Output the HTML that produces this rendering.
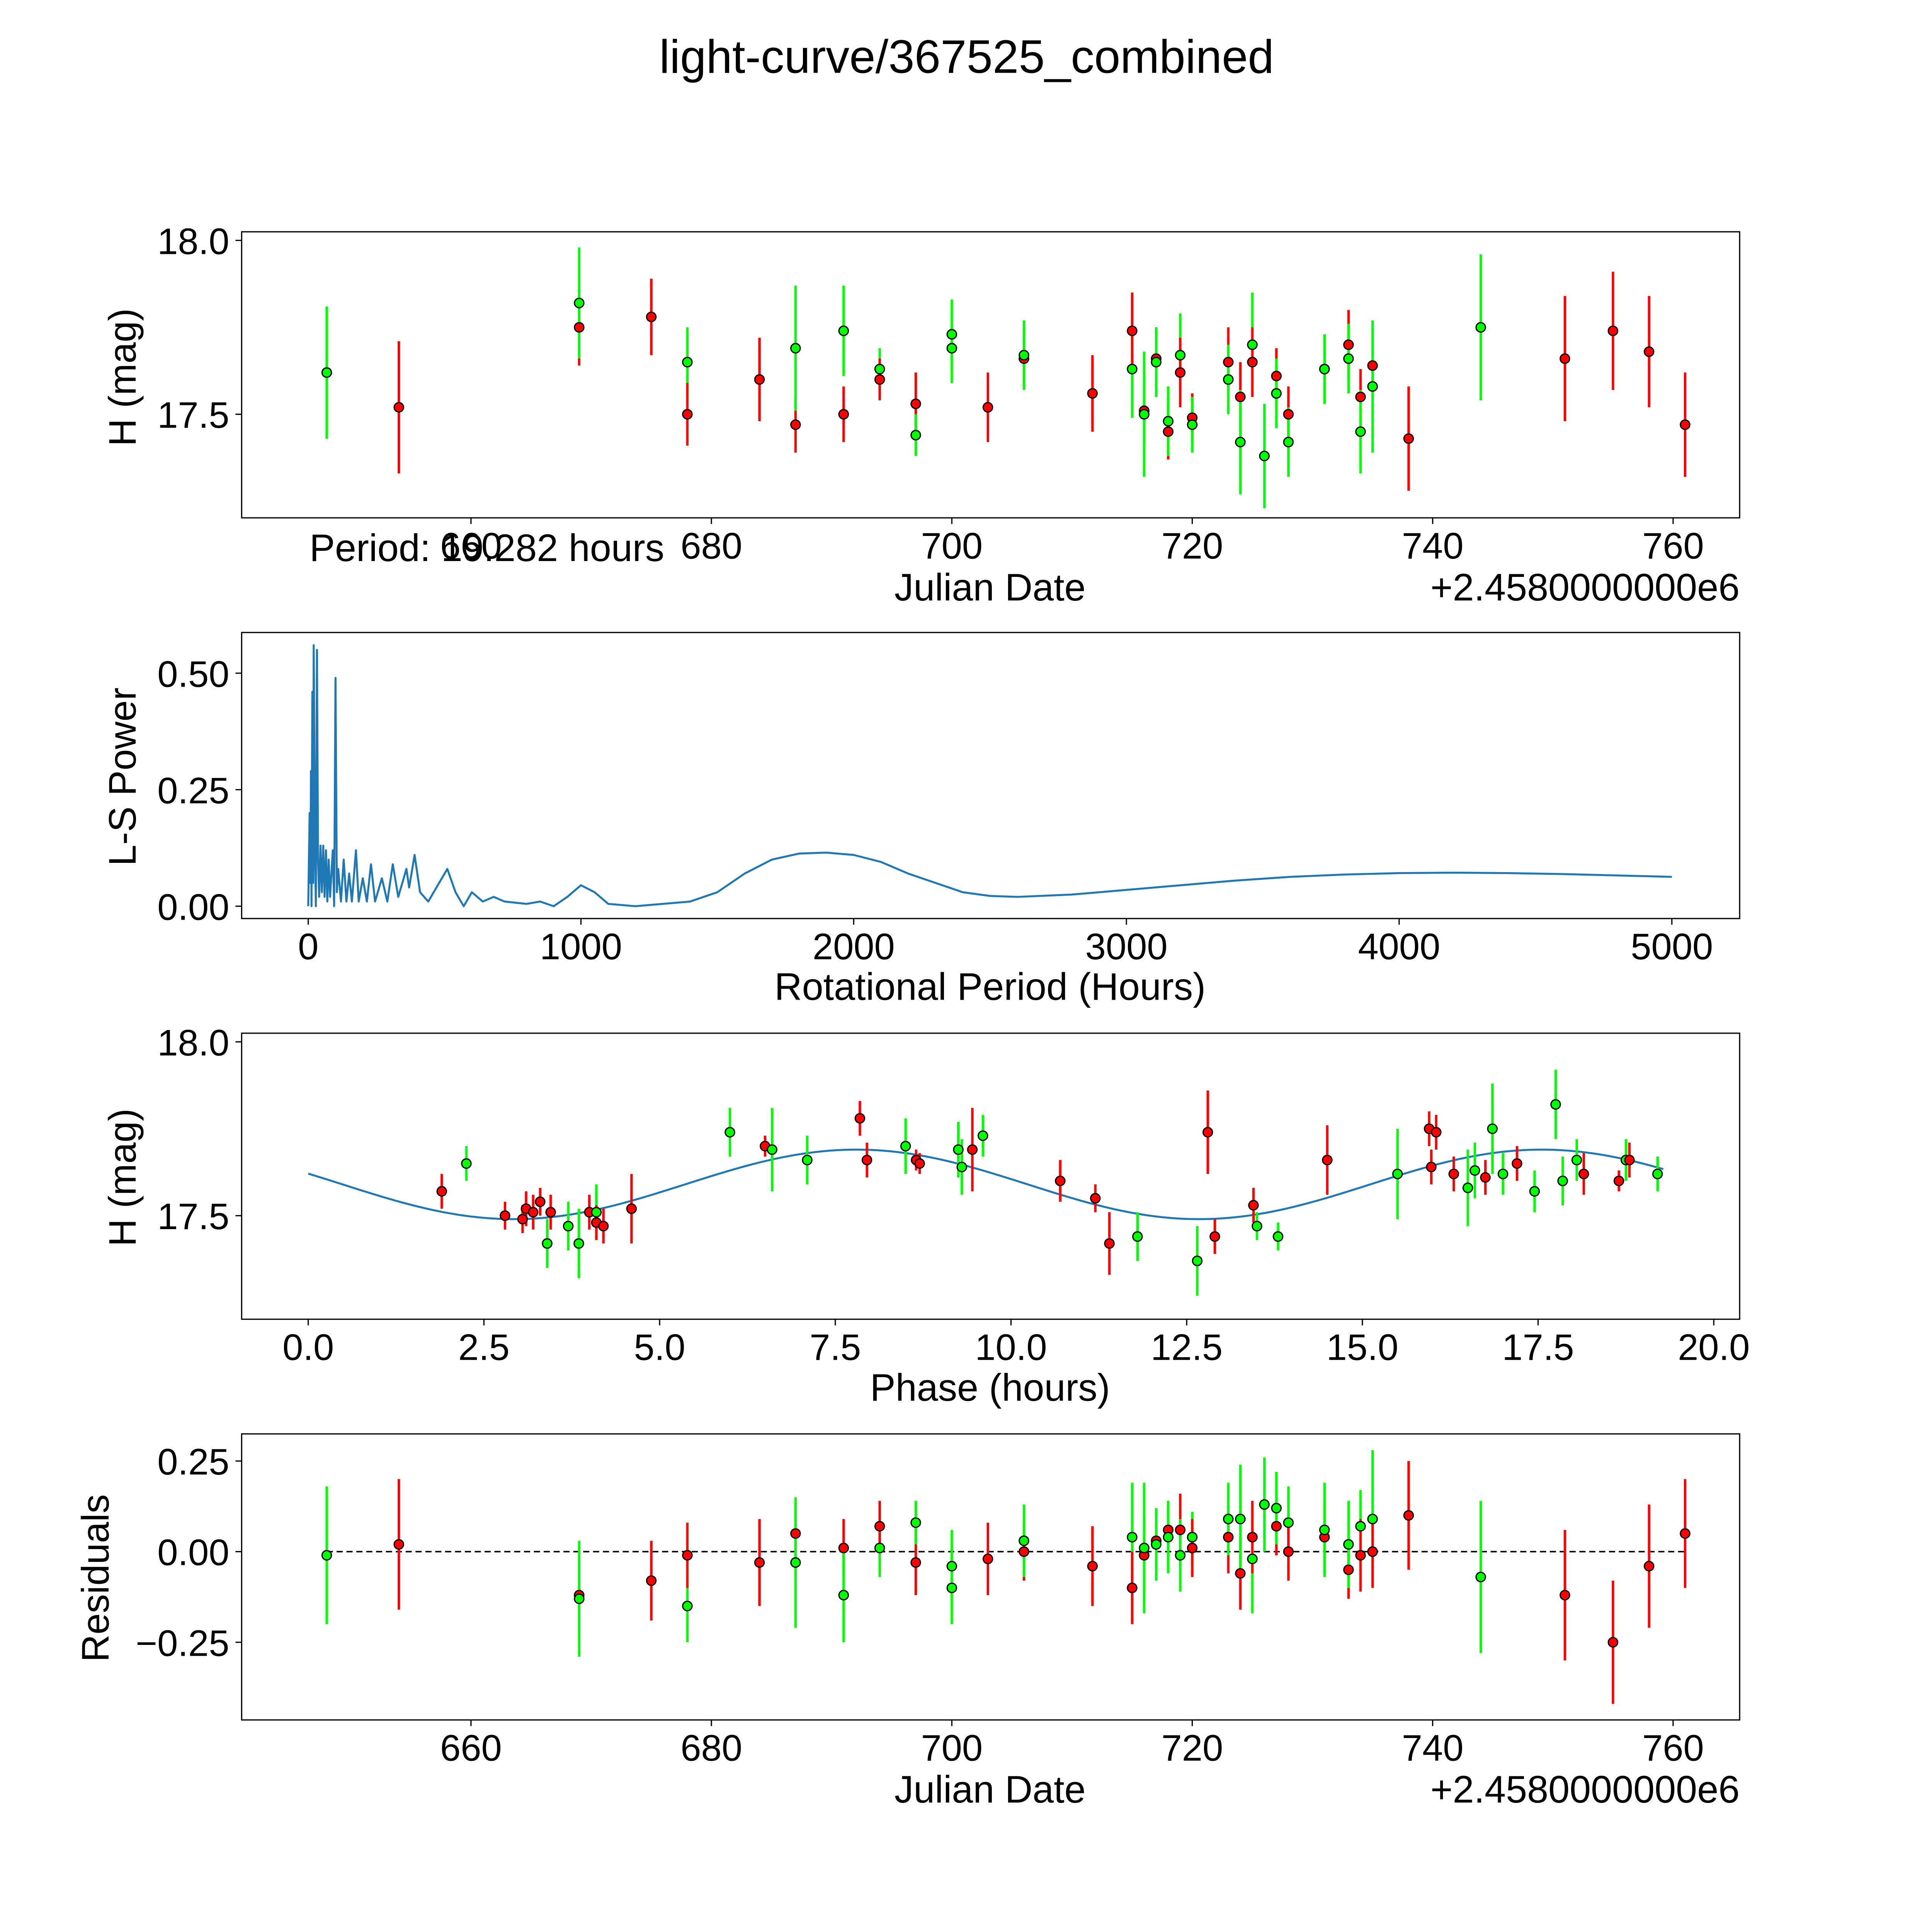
<!DOCTYPE html>
<html><head><meta charset="utf-8"><style>
html,body{margin:0;padding:0;background:#fff;overflow:hidden;width:100%;height:100%}
svg{display:block;width:100vw;height:100vh}
text{font-family:"Liberation Sans","DejaVu Sans",sans-serif;fill:#000}
</style></head><body>
<svg id="fig" xmlns="http://www.w3.org/2000/svg" viewBox="0 0 1567 1567" preserveAspectRatio="none">
<rect width="1567" height="1567" fill="#fff"/>
<text x="784" y="59" font-size="38" text-anchor="middle">light-curve/367525_combined</text>
</svg>
<script>
// ---- Panel 1 data: Julian date obs ----
const jdDates=[648,654,669,669,675,678,678,684,687,687,691,691,694,694,697,697,700,700,703,706,706,711.7,715,715,716,716,717,717,718,718,719,719,720,720,723,723,724,724,725,725,726,727,727,728,728,731,731,733,733,734,734,735,735,738,744,751,755,758,761];
const jdMags=[17.62,17.52,17.75,17.82,17.78,17.65,17.50,17.60,17.47,17.69,17.50,17.74,17.63,17.60,17.53,17.44,17.73,17.69,17.52,17.66,17.67,17.56,17.63,17.74,17.51,17.50,17.66,17.65,17.45,17.48,17.67,17.62,17.49,17.47,17.65,17.60,17.55,17.42,17.70,17.65,17.38,17.61,17.56,17.50,17.42,17.63,17.63,17.70,17.66,17.55,17.45,17.64,17.58,17.43,17.75,17.66,17.74,17.68,17.47];
const jdErrs=[0.19,0.19,0.11,0.16,0.11,0.1,0.09,0.12,0.08,0.18,0.08,0.13,0.06,0.06,0.09,0.06,0.1,0.1,0.1,0.08,0.1,0.11,0.14,0.11,0.1,0.18,0.09,0.1,0.08,0.1,0.12,0.1,0.07,0.08,0.1,0.1,0.1,0.15,0.15,0.1,0.15,0.08,0.1,0.08,0.1,0.1,0.1,0.1,0.1,0.08,0.12,0.08,0.19,0.15,0.21,0.18,0.17,0.16,0.15];
const jdColors=['g','r','r','g','r','g','r','r','r','g','r','g','g','r','r','g','g','g','r','r','g','r','g','r','r','g','r','g','r','g','g','r','r','g','r','g','r','g','g','r','g','r','g','r','g','r','g','r','g','r','g','r','g','r','g','r','r','r','r'];
// ---- Panel 2: periodogram ----
const lsPeriods=[0,5,8,10,12,15,18,20,25,28,32,36,40,45,50,55,60,65,70,75,80,90,95,100,105,110,120,130,140,150,160,175,185,200,215,230,245,270,290,310,330,360,370,390,410,440,470,510,540,570,600,640,680,720,800,850,900,950,1000,1050,1100,1200,1300,1400,1500,1600,1700,1800,1900,2000,2100,2200,2300,2400,2500,2600,2800,3000,3200,3400,3600,3800,4000,4200,4400,4600,4800,5000];
const lsPowers=[0,0.2,0.05,0.29,0,0.46,0.05,0.56,0.1,0,0.55,0.1,0.02,0.13,0.03,0.13,0.02,0.12,0.01,0.1,0.02,0.12,0,0.49,0.03,0.08,0.01,0.1,0.01,0.07,0.01,0.12,0.01,0.06,0.01,0.09,0.01,0.06,0.01,0.09,0.02,0.08,0.04,0.11,0.03,0.01,0.04,0.08,0.03,0,0.03,0.01,0.02,0.01,0.005,0.01,0,0.02,0.045,0.03,0.005,0,0.005,0.01,0.03,0.07,0.1,0.113,0.115,0.11,0.095,0.07,0.05,0.03,0.022,0.02,0.025,0.035,0.045,0.055,0.063,0.068,0.071,0.072,0.071,0.069,0.066,0.063];
// ---- Panel 3: phase-folded ----
const phHours=[1.9,2.25,2.8,3.05,3.1,3.2,3.3,3.45,3.4,3.7,3.85,4.0,4.1,4.1,4.2,4.6,6.0,6.5,6.6,7.1,7.85,7.95,8.5,8.65,8.7,9.25,9.3,9.45,9.6,10.7,11.2,11.4,11.8,12.65,12.8,12.9,13.45,13.5,13.8,14.5,15.5,15.95,16.05,15.98,16.3,16.5,16.6,16.75,16.85,17.0,17.2,17.45,17.75,17.85,18.05,18.15,18.65,18.75,18.8,19.2];
const phMags=[17.57,17.65,17.50,17.49,17.52,17.51,17.54,17.51,17.42,17.47,17.42,17.51,17.51,17.48,17.47,17.52,17.74,17.70,17.69,17.66,17.78,17.66,17.70,17.66,17.65,17.69,17.64,17.69,17.73,17.60,17.55,17.42,17.44,17.37,17.74,17.44,17.53,17.47,17.44,17.66,17.62,17.75,17.74,17.64,17.62,17.58,17.63,17.61,17.75,17.62,17.65,17.57,17.82,17.60,17.66,17.62,17.60,17.66,17.66,17.62];
const phErrs=[0.05,0.05,0.04,0.04,0.05,0.05,0.04,0.05,0.07,0.07,0.1,0.05,0.08,0.05,0.05,0.1,0.07,0.03,0.12,0.07,0.05,0.05,0.08,0.03,0.03,0.08,0.08,0.12,0.06,0.06,0.04,0.09,0.07,0.1,0.12,0.05,0.05,0.04,0.04,0.1,0.13,0.05,0.05,0.05,0.05,0.11,0.08,0.05,0.13,0.06,0.05,0.06,0.1,0.07,0.06,0.06,0.03,0.06,0.05,0.05];
const phColors=['r','g','r','r','r','r','r','r','g','g','g','r','g','r','r','r','g','r','g','g','r','r','g','r','r','g','g','r','g','r','r','r','g','g','r','r','r','g','g','r','g','r','r','r','r','g','g','r','g','g','r','g','g','g','g','r','r','g','r','g'];
// ---- Panel 4: residuals ----
const resDates=[648,654,669,669,675,678,678,684,687,687,691,691,694,694,697,697,700,700,703,706,706,711.7,715,715,716,716,717,717,718,718,719,719,720,720,723,723,724,724,725,725,726,727,727,728,728,731,731,733,733,734,734,735,735,738,744,751,755,758,761];
const resVals=[-0.01,0.02,-0.12,-0.13,-0.08,-0.15,-0.01,-0.03,0.05,-0.03,0.01,-0.12,0.01,0.07,-0.03,0.08,-0.04,-0.10,-0.02,0.00,0.03,-0.04,0.04,-0.10,-0.01,0.01,0.03,0.02,0.06,0.04,0.06,-0.01,0.04,0.01,0.04,0.09,-0.06,0.09,-0.02,0.04,0.13,0.07,0.12,0.08,0.00,0.04,0.06,-0.05,0.02,0.07,-0.01,0.09,0.00,0.10,-0.07,-0.12,-0.25,-0.04,0.05];
const resErrs=[0.19,0.18,0.11,0.16,0.11,0.1,0.09,0.12,0.08,0.18,0.08,0.13,0.08,0.07,0.09,0.06,0.1,0.1,0.1,0.08,0.1,0.11,0.15,0.1,0.1,0.18,0.09,0.1,0.08,0.1,0.1,0.1,0.07,0.08,0.1,0.1,0.1,0.15,0.15,0.1,0.13,0.08,0.1,0.1,0.08,0.1,0.13,0.08,0.12,0.1,0.1,0.19,0.1,0.15,0.21,0.18,0.17,0.17,0.15];
const resColors=['g','r','r','g','r','g','r','r','r','g','r','g','g','r','r','g','g','g','r','r','g','r','g','r','r','g','r','g','r','g','r','g','g','r','r','g','r','g','g','r','g','r','g','g','r','r','g','r','g','g','r','g','r','r','g','r','r','r','r'];
const jdTicks=[660,680,700,720,740,760];
const magTicks=[17.5,18.0];
const lsXTicks=[0,1000,2000,3000,4000,5000];
const lsYTicks=[0,0.25,0.5];
const phXTicks=[0,2.5,5,7.5,10,12.5,15,17.5,20];
const resYTicks=[-0.25,0,0.25];

const NS='http://www.w3.org/2000/svg';
const svg=document.getElementById('fig');
function mk(tag,attrs,parent){const e=document.createElementNS(NS,tag);for(const k in attrs)e.setAttribute(k,attrs[k]);(parent||svg).appendChild(e);return e;}
const COL={r:'#ff0000',g:'#00ff00'};
const L=196,R=1411;
const TF=30, LF=31;
function lin(d0,d1,p0,p1){return v=>p0+(v-d0)*(p1-p0)/(d1-d0);}

function frame(g,top,bot){
  const r=mk('rect',{x:L,y:top,width:R-L,height:bot-top,fill:'none',stroke:'#000','stroke-width':1},g);
  
  
}
function xticks(g,ticks,xs,bot,fmt){
  ticks.forEach(t=>{
    const x=xs(t);
    mk('line',{x1:x,x2:x,y1:bot,y2:bot+5,stroke:'#000','stroke-width':1},g);
    const tx=mk('text',{x:x,y:bot+33,'font-size':TF,'text-anchor':'middle'},g);
    tx.textContent=fmt(t);
    
    
  });
}
function yticks(g,ticks,ys,fmt){
  ticks.forEach(t=>{
    const y=ys(t);
    mk('line',{x1:L-5,x2:L,y1:y,y2:y,stroke:'#000','stroke-width':1},g);
    const tx=mk('text',{x:L-10,y:y+11,'font-size':TF,'text-anchor':'end'},g);
    tx.textContent=fmt(t);
    
    
  });
}
function label(g,txt,x,y,rot,name){
  const t=mk('text',{x:x,y:y,'font-size':LF,'text-anchor':'middle'},g);
  if(rot)t.setAttribute('transform','rotate(-90 '+x+' '+y+')');
  t.textContent=txt;
  
  
}
function errpts(g,xsArr,ysArr,es,cs,xs,ys){
  xsArr.forEach((xv,i)=>{
    const x=xs(xv);
    const l=mk('line',{x1:x,x2:x,y1:ys(ysArr[i]+es[i]),y2:ys(ysArr[i]-es[i]),stroke:COL[cs[i]],'stroke-width':2},g);
    
    
  });
  xsArr.forEach((xv,i)=>{
    const c=mk('circle',{cx:xs(xv),cy:ys(ysArr[i]),r:3.8,fill:COL[cs[i]],stroke:'#000','stroke-width':1},g);
    
    
  });
}
const fmtMag=v=>v.toFixed(1);

// Panel 1
{
  const g=mk('g',{});
  
  
  const xs=lin(660,760,382,1357), ys=lin(18.0,17.5,195,336);
  const clip=mk('clipPath',{id:'c1'},g);mk('rect',{x:L,y:188,width:R-L,height:232},clip);
  const inner=mk('g',{'clip-path':'url(#c1)'},g);
  errpts(inner,jdDates,jdMags,jdErrs,jdColors,xs,ys);
  frame(g,188,420);
  xticks(g,jdTicks,xs,420,v=>String(v));
  yticks(g,magTicks,ys,fmtMag);
  const p=mk('text',{x:251,y:455,'font-size':LF},g);p.textContent='Period: 19.282 hours';
  
  
  label(g,'Julian Date',803,487,false,'x-axis-title');
  const o=mk('text',{x:1411,y:487,'font-size':LF,'text-anchor':'end'},g);o.textContent='+2.4580000000e6';
  
  
  label(g,'H (mag)',110,306,true,'y-axis-title');
}
// Panel 2
{
  const g=mk('g',{});
  
  
  const xs=lin(0,5000,250,1356), ys=lin(0,0.5,735,546);
  const d=lsPeriods.map((p,i)=>(i?'L':'M')+xs(p).toFixed(2)+','+ys(lsPowers[i]).toFixed(2)).join(' ');
  const path=mk('path',{d:d,fill:'none',stroke:'#1f77b4','stroke-width':1.6,'stroke-linejoin':'round'},g);
  
  
  frame(g,513,745);
  xticks(g,lsXTicks,xs,745,v=>String(v));
  yticks(g,lsYTicks,ys,v=>v.toFixed(2));
  label(g,'Rotational Period (Hours)',803,811,false,'x-axis-title');
  label(g,'L-S Power',110,630,true,'y-axis-title');
}
// Panel 3
{
  const g=mk('g',{});
  
  
  const xs=lin(0,20,250,1390), ys=lin(18.0,17.5,845,986);
  const clip=mk('clipPath',{id:'c3'},g);mk('rect',{x:L,y:838,width:R-L,height:232},clip);
  const inner=mk('g',{'clip-path':'url(#c3)'},g);
  let d='';
  for(let i=0;i<=200;i++){const h=19.282*i/200;const m=17.59+0.1*Math.cos(2*Math.PI*(h-7.8)/9.75);d+=(i?'L':'M')+xs(h).toFixed(2)+','+ys(m).toFixed(2)+' ';}
  const path=mk('path',{d:d,fill:'none',stroke:'#1f77b4','stroke-width':1.6},inner);
  
  
  errpts(inner,phHours,phMags,phErrs,phColors,xs,ys);
  frame(g,838,1070);
  xticks(g,phXTicks,xs,1070,v=>v.toFixed(1));
  yticks(g,magTicks,ys,fmtMag);
  label(g,'Phase (hours)',803,1136,false,'x-axis-title');
  label(g,'H (mag)',110,955,true,'y-axis-title');
}
// Panel 4
{
  const g=mk('g',{});
  
  
  const xs=lin(660,760,382,1357), ys=lin(0.25,-0.25,1185,1332);
  const z=mk('line',{x1:xs(648),x2:xs(761),y1:ys(0),y2:ys(0),stroke:'#000','stroke-width':1.2,'stroke-dasharray':'5,3'},g);
  
  
  errpts(g,resDates,resVals,resErrs,resColors,xs,ys);
  frame(g,1163,1395);
  xticks(g,jdTicks,xs,1395,v=>String(v));
  yticks(g,resYTicks,ys,v=>(v<0?'\u2212':'')+Math.abs(v).toFixed(2));
  label(g,'Julian Date',803,1462,false,'x-axis-title');
  const o=mk('text',{x:1411,y:1462,'font-size':LF,'text-anchor':'end'},g);o.textContent='+2.4580000000e6';
  
  
  label(g,'Residuals',88,1280,true,'y-axis-title');
}
</script>
</body></html>
